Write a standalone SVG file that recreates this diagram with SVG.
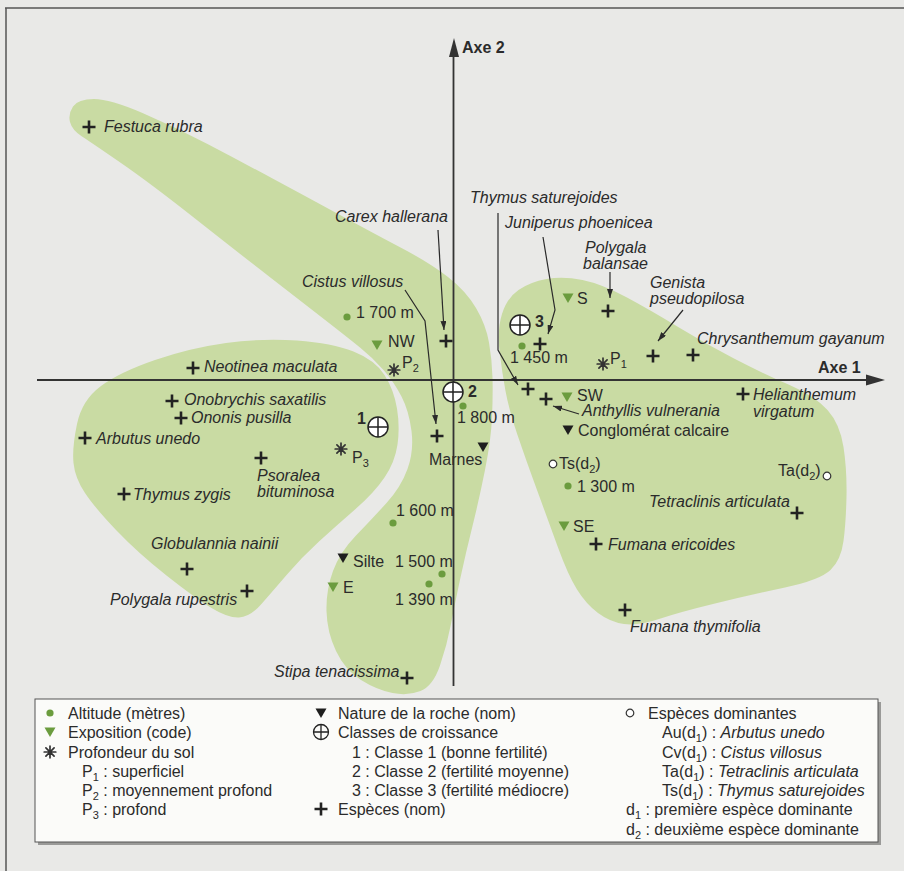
<svg xmlns="http://www.w3.org/2000/svg" xmlns:xlink="http://www.w3.org/1999/xlink" width="904" height="871" viewBox="0 0 904 871">
<style>
text{font-family:"Liberation Sans",Arial,sans-serif;fill:#2b2b2b;font-size:16px}
.it{font-style:italic}
.bd{font-weight:bold}
.blob{fill:#c9dba3}
.conn{fill:none;stroke:#2a2a2a;stroke-width:1.2}
.axis{stroke:#333;stroke-width:1.8;fill:none}
.sub{font-size:11px}
</style>
<defs>
<marker id="ah" viewBox="0 0 9 6" refX="9" refY="3" markerWidth="9" markerHeight="6" markerUnits="userSpaceOnUse" orient="auto"><path d="M0,0 L9,3 L0,6 Z" fill="#2a2a2a"/></marker>
<path id="plus" d="M-6.5,0H6.5M0,-6.5V6.5" stroke="#222" stroke-width="2.6" fill="none"/>
<circle id="gdot" r="3.6" fill="#6b9c3e"/>
<path id="gtri" d="M-5.5,-4.5L5.5,-4.5L0,5Z" fill="#6b9c3e"/>
<path id="btri" d="M-5.5,-4.5L5.5,-4.5L0,5Z" fill="#1e1e1e"/>
<path id="ast" d="M-5.8,0H5.8M0,-5.8V5.8M-4.1,-4.1L4.1,4.1M-4.1,4.1L4.1,-4.1" stroke="#333" stroke-width="1.7" stroke-linecap="round" fill="none"/>
<g id="cls"><circle r="10" fill="#fff" stroke="#222" stroke-width="1.5"/><path d="M-10,0H10M0,-10V10" stroke="#222" stroke-width="1.5"/></g>
<g id="clsS"><circle r="7.5" fill="none" stroke="#222" stroke-width="1.3"/><path d="M-7.5,0H7.5M0,-7.5V7.5" stroke="#222" stroke-width="1.3"/></g>
<circle id="ocirc" r="3.8" fill="#fff" stroke="#333" stroke-width="1.2"/>
</defs>
<rect width="904" height="871" fill="#e9e9e7"/>
<g id="frame" stroke="#555" stroke-width="1.5" fill="none"><path d="M5,8H904M6,8V871"/></g>

<g id="zones">
<path id="zone-band" class="blob" d="M70,122 Q68,114 73,106.5 Q78,99 94,99 Q110,99 142.5,113 Q175,127 207.5,144 Q240,161 273.5,179 Q307,197 340,215 Q373,233 401.5,248 Q430,263 448,277 Q466,291 476,308 Q486,325 489,342.5 Q492,360 492.5,377.5 Q493,395 492,417.5 Q491,440 485,470 Q479,500 472.5,526 Q466,552 460.5,577.5 Q455,603 451,624 Q447,645 440,665.5 Q433,686 420.5,691 Q408,696 392.5,693 Q377,690 361,680 Q345,670 336,651 Q327,632 326.5,611 Q326,590 333,571 Q340,552 356,535.5 Q372,519 386.5,503 Q401,487 407.5,469 Q414,451 411.5,431 Q409,411 401.5,396.5 Q394,382 383.5,370 Q373,358 360,347.5 Q347,337 324.5,319.5 Q302,302 271,278 Q240,254 195,218.5 Q150,183 121,163 Q92,143 82,136.5 Q72,130 70,122 Z"/>
<path id="zone-left" class="blob" d="M73.5,463 Q72,448 77,424 Q82,400 101,386 Q120,372 155,360 Q190,348 226,343 Q262,338 297,340.5 Q332,343 353.5,351.5 Q375,360 384.5,375 Q394,390 397,408.5 Q400,427 397.5,444.5 Q395,462 384.5,477.5 Q374,493 355,509.5 Q336,526 319,541.5 Q302,557 287,574.5 Q272,592 261,604.5 Q250,617 239,617.5 Q228,618 211.5,608 Q195,598 166.5,575.5 Q138,553 116.5,530.5 Q95,508 85,493 Q75,478 73.5,463 Z"/>
<path id="zone-right" class="blob" d="M505.5,391 Q502,372 499.5,351 Q497,330 502,314 Q507,298 518.5,290 Q530,282 546.5,279 Q563,276 582.5,280 Q602,284 627,297.5 Q652,311 679,327.5 Q706,344 734,358.5 Q762,373 788.5,384.5 Q815,396 827.5,410 Q840,424 843.5,447 Q847,470 846.5,496 Q846,522 843.5,541 Q841,560 830.5,570 Q820,580 785,587.5 Q750,595 715,603.5 Q680,612 659,619 Q638,626 624,624 Q610,622 598,613 Q586,604 577,589.5 Q568,575 558,547.5 Q548,520 537,490 Q526,460 517.5,435 Q509,410 505.5,391 Z"/>
</g>

<g id="axes">
<path class="axis" d="M37,380H868"/>
<path d="M866,374.5L885,380L866,385.5Z" fill="#333"/>
<path class="axis" d="M453.5,686V55"/>
<path d="M449,57L454,38L459,57Z" fill="#333"/>
<text class="bd" x="818" y="373" font-size="15.5">Axe 1</text>
<text class="bd" x="462" y="53" font-size="15.5">Axe 2</text>
</g>

<g id="connectors">
<path class="conn" d="M438,230L444,330" marker-end="url(#ah)"/>
<path class="conn" d="M405,290L425,321L436,424" marker-end="url(#ah)"/>
<path class="conn" d="M498,213V350L518,385" marker-end="url(#ah)"/>
<path class="conn" d="M543,237L555,310L548,334" marker-end="url(#ah)"/>
<path class="conn" d="M610,272V298" marker-end="url(#ah)"/>
<path class="conn" d="M683,310L658,341" marker-end="url(#ah)"/>
<path class="conn" d="M579,414L553,406" marker-end="url(#ah)"/>
</g>

<g id="n-festuca"><use href="#plus" x="89" y="127"/><text class="it" x="104" y="132">Festuca rubra</text></g>
<g id="n-carex"><use href="#plus" x="446" y="341"/><text class="it" x="335" y="222">Carex hallerana</text></g>
<g id="n-cistus"><use href="#plus" x="437" y="436"/><text class="it" x="302" y="287">Cistus villosus</text></g>
<g id="n-thymus-sat"><use href="#plus" x="528" y="389"/><text class="it" x="470" y="203">Thymus saturejoides</text></g>
<g id="n-juniperus"><use href="#plus" x="540" y="344"/><text class="it" x="505" y="228">Juniperus phoenicea</text></g>
<g id="n-polygala-bal"><use href="#plus" x="608" y="311"/><text class="it" x="585" y="253">Polygala</text><text class="it" x="583" y="269">balansae</text></g>
<g id="n-genista"><use href="#plus" x="653" y="356"/><text class="it" x="650" y="288">Genista</text><text class="it" x="650" y="304">pseudopilosa</text></g>
<g id="n-chrysanthemum"><use href="#plus" x="693" y="355"/><text class="it" x="697" y="344">Chrysanthemum gayanum</text></g>
<g id="n-helianthemum"><use href="#plus" x="743" y="394"/><text class="it" x="753" y="400">Helianthemum</text><text class="it" x="753" y="417">virgatum</text></g>
<g id="n-anthyllis"><use href="#plus" x="546" y="399"/><text class="it" x="582" y="416">Anthyllis vulnerania</text></g>
<g id="n-tetraclinis"><use href="#plus" x="797" y="513"/><text class="it" x="649" y="507">Tetraclinis articulata</text></g>
<g id="n-fumana-eri"><use href="#plus" x="596" y="544"/><text class="it" x="608" y="550">Fumana ericoides</text></g>
<g id="n-fumana-thy"><use href="#plus" x="625" y="610"/><text class="it" x="630" y="632">Fumana thymifolia</text></g>
<g id="n-neotinea"><use href="#plus" x="193" y="368"/><text class="it" x="204" y="372">Neotinea maculata</text></g>
<g id="n-onobrychis"><use href="#plus" x="172" y="401"/><text class="it" x="184" y="405">Onobrychis saxatilis</text></g>
<g id="n-ononis"><use href="#plus" x="181" y="418"/><text class="it" x="191" y="423">Ononis pusilla</text></g>
<g id="n-arbutus"><use href="#plus" x="85" y="438"/><text class="it" x="96" y="444">Arbutus unedo</text></g>
<g id="n-psoralea"><use href="#plus" x="261" y="458"/><text class="it" x="257" y="481">Psoralea</text><text class="it" x="257" y="497">bituminosa</text></g>
<g id="n-thymus-zyg"><use href="#plus" x="124" y="494"/><text class="it" x="133" y="500">Thymus zygis</text></g>
<g id="n-globulannia"><use href="#plus" x="187" y="569"/><text class="it" x="151" y="549">Globulannia nainii</text></g>
<g id="n-polygala-rup"><use href="#plus" x="247" y="591"/><text class="it" x="110" y="605">Polygala rupestris</text></g>
<g id="n-stipa"><use href="#plus" x="407" y="678"/><text class="it" x="274" y="677">Stipa tenacissima</text></g>

<g id="n-class1"><use href="#cls" x="378" y="427"/><text class="bd" x="357" y="424" font-size="17">1</text></g>
<g id="n-class2"><use href="#cls" x="453" y="392"/><text class="bd" x="468" y="397" font-size="17">2</text></g>
<g id="n-class3"><use href="#cls" x="520" y="325"/><text class="bd" x="535" y="327" font-size="17">3</text></g>

<g id="n-alt1700"><use href="#gdot" x="347" y="317"/><text x="356" y="318">1 700 m</text></g>
<g id="n-alt1450"><use href="#gdot" x="522" y="346"/><text x="510" y="363">1 450 m</text></g>
<g id="n-alt1800"><use href="#gdot" x="463" y="406"/><text x="457" y="423">1 800 m</text></g>
<g id="n-alt1300"><use href="#gdot" x="568" y="486"/><text x="577" y="492">1 300 m</text></g>
<g id="n-alt1600"><use href="#gdot" x="393" y="523"/><text x="396" y="516">1 600 m</text></g>
<g id="n-alt1500"><use href="#gdot" x="442" y="574"/><text x="395" y="567">1 500 m</text></g>
<g id="n-alt1390"><use href="#gdot" x="429" y="584"/><text x="395" y="605">1 390 m</text></g>

<g id="n-expNW"><use href="#gtri" x="377" y="345"/><text x="388" y="347">NW</text></g>
<g id="n-expS"><use href="#gtri" x="568" y="298"/><text x="577" y="304">S</text></g>
<g id="n-expSW"><use href="#gtri" x="567" y="397"/><text x="577" y="401">SW</text></g>
<g id="n-expSE"><use href="#gtri" x="564" y="526"/><text x="573" y="532">SE</text></g>
<g id="n-expE"><use href="#gtri" x="333" y="587"/><text x="343" y="593">E</text></g>

<g id="n-rock-cong"><use href="#btri" x="568" y="430"/><text x="578" y="436">Conglomérat calcaire</text></g>
<g id="n-rock-marnes"><use href="#btri" x="483" y="447"/><text x="429" y="465">Marnes</text></g>
<g id="n-rock-silte"><use href="#btri" x="343" y="558"/><text x="353" y="567">Silte</text></g>

<g id="n-p1"><use href="#ast" x="603" y="364"/><text x="610" y="364">P<tspan class="sub" dy="4">1</tspan></text></g>
<g id="n-p2"><use href="#ast" x="394" y="370"/><text x="402" y="368">P<tspan class="sub" dy="4">2</tspan></text></g>
<g id="n-p3"><use href="#ast" x="341" y="449"/><text x="352" y="463">P<tspan class="sub" dy="4">3</tspan></text></g>

<g id="n-ts-d2"><use href="#ocirc" x="553" y="464"/><text x="559" y="469">Ts(d<tspan class="sub" dy="4">2</tspan><tspan dy="-4">)</tspan></text></g>
<g id="n-ta-d2"><use href="#ocirc" x="827" y="476"/><text x="778" y="476">Ta(d<tspan class="sub" dy="4">2</tspan><tspan dy="-4">)</tspan></text></g>

<g id="legend">
<rect x="38" y="702" width="843" height="143" fill="#9a9a98"/>
<rect x="35" y="699" width="843" height="143" fill="#fbfbf9" stroke="#555" stroke-width="1"/>
<use href="#gdot" x="50" y="713"/><text x="68" y="719">Altitude (mètres)</text>
<use href="#gtri" x="50" y="732"/><text x="68" y="738">Exposition (code)</text>
<use href="#ast" x="50" y="752"/><text x="68" y="758">Profondeur du sol</text>
<text x="82" y="777">P<tspan class="sub" dy="4">1</tspan><tspan dy="-4"> : superficiel</tspan></text>
<text x="82" y="796">P<tspan class="sub" dy="4">2</tspan><tspan dy="-4"> : moyennement profond</tspan></text>
<text x="82" y="815">P<tspan class="sub" dy="4">3</tspan><tspan dy="-4"> : profond</tspan></text>
<use href="#btri" x="321" y="713"/><text x="338" y="719">Nature de la roche (nom)</text>
<use href="#clsS" x="321" y="732"/><text x="338" y="738">Classes de croissance</text>
<text x="352" y="758">1 : Classe 1 (bonne fertilité)</text>
<text x="352" y="777">2 : Classe 2 (fertilité moyenne)</text>
<text x="352" y="796">3 : Classe 3 (fertilité médiocre)</text>
<use href="#plus" x="321" y="809"/><text x="338" y="815">Espèces (nom)</text>
<use href="#ocirc" x="630" y="713"/><text x="648" y="719">Espèces dominantes</text>
<text x="662" y="738">Au(d<tspan class="sub" dy="4">1</tspan><tspan dy="-4">) : </tspan><tspan class="it">Arbutus unedo</tspan></text>
<text x="662" y="758">Cv(d<tspan class="sub" dy="4">1</tspan><tspan dy="-4">) : </tspan><tspan class="it">Cistus villosus</tspan></text>
<text x="662" y="777">Ta(d<tspan class="sub" dy="4">1</tspan><tspan dy="-4">) : </tspan><tspan class="it">Tetraclinis articulata</tspan></text>
<text x="662" y="796">Ts(d<tspan class="sub" dy="4">1</tspan><tspan dy="-4">) : </tspan><tspan class="it">Thymus saturejoides</tspan></text>
<text x="626" y="815">d<tspan class="sub" dy="4">1</tspan><tspan dy="-4"> : première espèce dominante</tspan></text>
<text x="626" y="835">d<tspan class="sub" dy="4">2</tspan><tspan dy="-4"> : deuxième espèce dominante</tspan></text>
</g>
</svg>
